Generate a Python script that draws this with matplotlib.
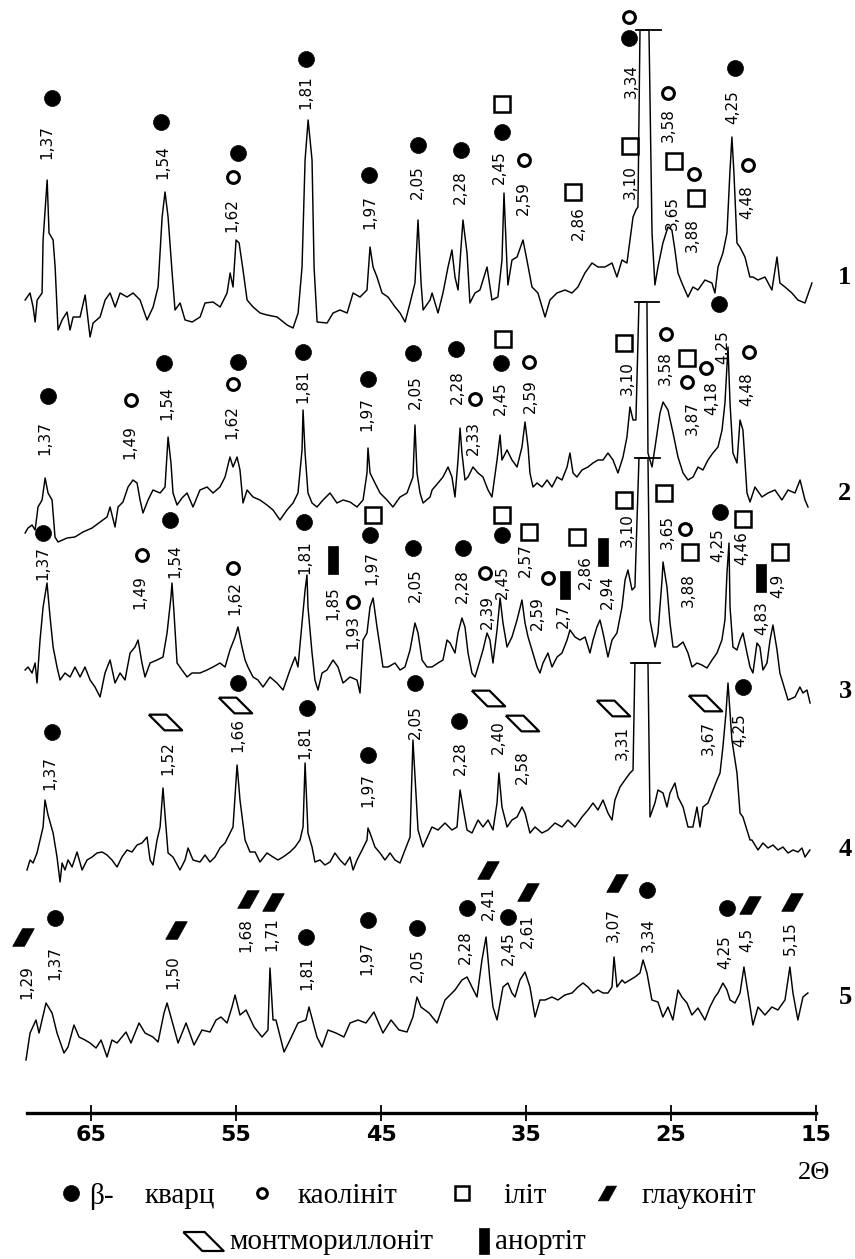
import numpy as np
import matplotlib.pyplot as plt

# ---- diffraction patterns: 2theta (deg) and intensity (arb. units) ----
T1_2THETA = [69.55, 69.21, 69.00, 68.86, 68.72, 68.38, 68.31, 68.03, 67.90, 67.62,
             67.48, 67.28, 67.00, 66.66, 66.45, 66.24, 65.76, 65.41, 65.07, 64.86,
             64.38, 64.03, 63.69, 63.34, 63.00, 62.52, 62.10, 61.62, 61.14, 60.72,
             60.38, 60.10, 59.90, 59.69, 59.41, 59.21, 58.86, 58.52, 58.03, 57.48,
             57.14, 56.59, 56.10, 55.62, 55.41, 55.21, 55.00, 54.79, 54.52, 54.24,
             53.83, 53.34, 52.86, 52.17, 51.48, 51.07, 50.72, 50.45, 50.24, 50.03,
             49.76, 49.62, 49.41, 48.72, 48.31, 47.83, 47.34, 46.93, 46.45, 45.97,
             45.76, 45.55, 45.28, 44.93, 44.52, 44.03, 43.69, 43.34, 43.00, 42.66,
             42.45, 42.24, 42.10, 41.62, 41.48, 41.07, 40.73, 40.38, 40.11, 39.90,
             39.69, 39.35, 39.07, 38.87, 38.52, 38.18, 37.69, 37.35, 36.94, 36.66,
             36.52, 36.31, 36.25, 35.97, 35.62, 35.21, 34.94, 34.59, 34.18, 33.69,
             33.35, 32.87, 32.31, 31.83, 31.42, 30.94, 30.45, 30.04, 29.56, 29.07,
             28.73, 28.38, 28.04, 27.83, 27.62, 27.42, 27.28, 27.14, 26.52, 26.31,
             26.11, 25.90, 25.56, 25.21, 24.94, 24.73, 24.52, 24.25, 23.83, 23.49,
             23.14, 22.66, 22.18, 21.97, 21.76, 21.42, 21.14, 20.94, 20.80, 20.66,
             20.45, 20.25, 19.90, 19.56, 19.35, 19.00, 18.52, 18.04, 17.69, 17.49,
             17.14, 16.66, 16.25, 15.76, 15.28]
T1_INT = [30, 37, 23, 8, 30, 37, 90, 150, 97, 90,
          63, 0, 10, 18, 0, 13, 13, 35, -7, 7,
          13, 30, 37, 23, 37, 33, 37, 30, 10, 23,
          43, 113, 138, 113, 57, 20, 27, 10, 8, 13,
          27, 28, 23, 37, 57, 43, 90, 87, 60, 30,
          23, 17, 15, 13, 5, 2, 17, 63, 170, 210,
          170, 63, 8, 7, 17, 20, 17, 37, 33, 40,
          83, 63, 53, 37, 33, 23, 17, 8, 27, 47,
          110, 47, 20, 30, 37, 17, 37, 63, 80, 53,
          40, 110, 77, 27, 37, 40, 63, 30, 33, 70,
          137, 63, 45, 70, 73, 90, 70, 43, 37, 13,
          30, 37, 40, 37, 43, 57, 67, 63, 63, 67,
          53, 70, 67, 90, 113, 120, 123, 300, 300, 97,
          45, 63, 87, 103, 100, 80, 57, 47, 33, 43,
          40, 50, 47, 37, 63, 77, 97, 157, 193, 157,
          87, 83, 73, 53, 53, 50, 53, 40, 73, 47,
          43, 37, 30, 27, 47]

T2_2THETA = [69.55, 69.35, 69.07, 68.86, 68.66, 68.38, 68.17, 67.97, 67.69, 67.49,
             67.28, 66.66, 66.11, 65.56, 64.93, 64.38, 63.90, 63.69, 63.35, 63.14,
             62.80, 62.45, 62.11, 61.83, 61.62, 61.42, 61.07, 60.73, 60.24, 59.90,
             59.69, 59.49, 59.35, 59.07, 58.73, 58.38, 57.97, 57.49, 57.00, 56.59,
             56.11, 55.76, 55.42, 55.21, 54.93, 54.73, 54.52, 54.24, 53.83, 53.35,
             52.87, 52.45, 51.97, 51.49, 51.07, 50.73, 50.45, 50.38, 50.24, 50.04,
             49.76, 49.42, 49.00, 48.52, 48.04, 47.62, 47.14, 46.66, 46.24, 45.97,
             45.90, 45.76, 45.42, 45.07, 44.59, 44.18, 43.69, 43.21, 42.80, 42.66,
             42.52, 42.31, 42.10, 41.62, 41.48, 41.07, 40.73, 40.38, 40.11, 39.90,
             39.69, 39.55, 39.42, 39.21, 39.00, 38.66, 38.31, 37.97, 37.62, 37.35,
             37.00, 36.79, 36.66, 36.31, 35.97, 35.62, 35.28, 35.07, 34.86, 34.73,
             34.52, 34.24, 33.90, 33.55, 33.21, 32.86, 32.52, 32.17, 31.97, 31.76,
             31.49, 31.14, 30.73, 30.38, 30.04, 29.69, 29.35, 29.00, 28.66, 28.31,
             28.04, 27.83, 27.62, 27.42, 27.21, 26.66, 26.59, 26.31, 26.10, 25.76,
             25.55, 25.21, 24.86, 24.52, 24.17, 23.83, 23.48, 23.14, 22.80, 22.45,
             22.11, 21.76, 21.48, 21.28, 21.07, 20.93, 20.73, 20.45, 20.24, 20.04,
             19.76, 19.55, 19.21, 18.73, 18.31, 17.83, 17.35, 16.93, 16.45, 16.10,
             15.76, 15.55]
T2_INT = [7, 12, 15, 10, 33, 40, 62, 47, 40, 3,
          -2, 2, 3, 8, 12, 18, 23, 33, 13, 33,
          38, 53, 60, 57, 40, 27, 40, 50, 47, 53,
          103, 77, 47, 35, 42, 47, 33, 50, 53, 47,
          53, 63, 83, 73, 83, 70, 37, 50, 43, 40,
          35, 30, 20, 30, 37, 47, 90, 130, 87, 47,
          37, 33, 40, 47, 37, 40, 38, 33, 40, 67,
          92, 67, 57, 47, 40, 33, 43, 47, 63, 115,
          67, 47, 37, 43, 50, 57, 63, 73, 63, 43,
          80, 112, 87, 60, 63, 73, 67, 63, 50, 43,
          80, 105, 80, 90, 80, 73, 93, 118, 93, 67,
          53, 57, 53, 60, 53, 63, 60, 73, 87, 67,
          63, 70, 73, 77, 80, 80, 87, 80, 67, 83,
          103, 133, 120, 120, 238, 238, 87, 73, 93, 127,
          138, 130, 107, 83, 67, 60, 63, 73, 70, 80,
          87, 93, 110, 137, 193, 137, 87, 77, 120, 110,
          47, 38, 53, 43, 47, 50, 40, 50, 47, 60,
          40, 33]

T3_2THETA = [69.55, 69.35, 69.07, 68.86, 68.73, 68.52, 68.31, 68.04, 67.83, 67.62,
             67.35, 67.14, 66.80, 66.45, 66.11, 65.76, 65.42, 65.07, 64.73, 64.38,
             64.04, 63.69, 63.35, 63.00, 62.66, 62.31, 61.97, 61.76, 61.49, 61.28,
             60.93, 60.45, 60.04, 59.76, 59.49, 59.42, 59.28, 59.07, 58.73, 58.38,
             58.04, 57.49, 57.00, 56.59, 56.11, 55.76, 55.42, 55.07, 54.87, 54.59,
             54.38, 54.18, 53.83, 53.49, 53.14, 52.66, 52.18, 51.76, 51.28, 50.93,
             50.73, 50.45, 50.24, 50.11, 50.04, 49.76, 49.56, 49.35, 49.07, 48.73,
             48.31, 47.97, 47.62, 47.14, 46.66, 46.45, 46.24, 45.97, 45.76, 45.55,
             45.28, 45.07, 44.87, 44.52, 44.04, 43.69, 43.35, 43.00, 42.66, 42.45,
             42.17, 41.83, 41.49, 41.07, 40.73, 40.45, 40.24, 39.90, 39.69, 39.42,
             39.21, 39.00, 38.73, 38.52, 38.31, 37.97, 37.69, 37.49, 37.28, 37.00,
             36.79, 36.59, 36.31, 35.97, 35.62, 35.28, 35.07, 34.86, 34.59, 34.24,
             34.04, 33.83, 33.49, 33.21, 32.86, 32.52, 32.17, 31.97, 31.62, 31.28,
             30.93, 30.59, 30.38, 30.11, 29.90, 29.69, 29.35, 29.07, 28.73, 28.38,
             28.17, 27.97, 27.69, 27.49, 27.21, 26.59, 26.45, 26.10, 25.90, 25.62,
             25.55, 25.28, 25.07, 24.86, 24.59, 24.17, 23.83, 23.55, 23.21, 22.87,
             22.52, 22.17, 21.83, 21.49, 21.28, 21.14, 21.00, 20.93, 20.73, 20.45,
             20.24, 20.04, 19.76, 19.55, 19.35, 19.07, 18.87, 18.66, 18.38, 18.17,
             17.97, 17.69, 17.49, 17.14, 16.93, 16.45, 16.11, 15.90, 15.62, 15.41]
T3_INT = [35, 38, 32, 42, 22, 65, 98, 122, 88, 58,
          38, 25, 32, 28, 38, 28, 38, 25, 18, 8,
          32, 45, 22, 32, 25, 52, 58, 65, 42, 28,
          42, 45, 48, 72, 108, 122, 92, 42, 35, 28,
          32, 32, 35, 38, 42, 38, 55, 68, 78, 58,
          45, 38, 28, 25, 18, 28, 22, 15, 35, 48,
          38, 82, 115, 130, 98, 52, 25, 15, 32, 35,
          45, 38, 22, 28, 25, 12, 65, 72, 98, 107,
          78, 58, 38, 38, 42, 35, 38, 55, 82, 72,
          45, 38, 38, 42, 45, 65, 62, 52, 72, 87,
          78, 52, 32, 28, 38, 55, 72, 65, 42, 75,
          107, 82, 58, 68, 85, 105, 82, 68, 55, 38,
          32, 42, 52, 38, 48, 52, 65, 75, 68, 65,
          68, 52, 65, 78, 85, 72, 48, 65, 72, 98,
          125, 135, 115, 118, 247, 247, 85, 58, 72, 125,
          143, 118, 82, 58, 58, 63, 52, 38, 42, 40,
          37, 45, 52, 65, 85, 132, 162, 98, 58, 55,
          65, 72, 52, 38, 32, 62, 58, 35, 42, 65,
          80, 55, 32, 15, 5, 8, 18, 12, 15, 2]

T4_2THETA = [69.42, 69.21, 69.00, 68.73, 68.52, 68.31, 68.18, 67.97, 67.62, 67.35,
             67.14, 67.00, 66.80, 66.59, 66.31, 65.97, 65.62, 65.28, 64.93, 64.59,
             64.24, 63.90, 63.56, 63.21, 62.87, 62.52, 62.18, 61.83, 61.49, 61.14,
             60.93, 60.73, 60.45, 60.24, 60.04, 59.90, 59.69, 59.35, 58.87, 58.52,
             58.31, 57.97, 57.49, 57.14, 56.80, 56.45, 56.11, 55.76, 55.42, 55.21,
             54.93, 54.73, 54.38, 54.04, 53.69, 53.35, 52.87, 52.45, 52.11, 51.76,
             51.28, 50.93, 50.59, 50.38, 50.24, 50.04, 49.76, 49.56, 49.21, 48.87,
             48.52, 48.18, 47.83, 47.49, 47.14, 46.93, 46.66, 46.31, 45.97, 45.90,
             45.76, 45.42, 45.07, 44.73, 44.38, 44.04, 43.69, 43.35, 43.00, 42.80,
             42.45, 42.11, 41.49, 41.07, 40.59, 40.11, 39.76, 39.55, 39.35, 39.07,
             38.73, 38.31, 37.97, 37.62, 37.28, 37.00, 36.87, 36.66, 36.31, 35.97,
             35.62, 35.28, 35.07, 34.73, 34.38, 33.90, 33.49, 33.00, 32.52, 32.11,
             31.62, 31.14, 30.73, 30.38, 30.04, 29.69, 29.35, 29.07, 28.87, 28.52,
             28.18, 27.83, 27.62, 27.49, 26.59, 26.45, 26.11, 25.90, 25.55, 25.28,
             25.07, 24.73, 24.52, 24.17, 23.83, 23.49, 23.21, 23.00, 22.80, 22.45,
             22.18, 21.83, 21.62, 21.42, 21.21, 21.07, 20.93, 20.80, 20.45, 20.24,
             20.04, 19.76, 19.55, 19.42, 19.00, 18.66, 18.31, 17.97, 17.62, 17.28,
             16.93, 16.59, 16.24, 15.97, 15.76, 15.42]
T4_INT = [0, 10, 7, 17, 30, 43, 70, 55, 37, 13,
          -12, 7, 0, 10, 3, 18, 0, 10, 13, 17,
          18, 15, 10, 3, 13, 20, 18, 25, 27, 33,
          10, 5, 30, 43, 82, 55, 17, 13, 0, 10,
          22, 10, 8, 15, 8, 13, 22, 27, 37, 43,
          105, 70, 30, 18, 18, 8, 17, 13, 10, 13,
          18, 23, 30, 43, 107, 37, 23, 8, 10, 5,
          8, 17, 10, 5, 13, 0, 10, 20, 30, 42,
          37, 23, 17, 10, 17, 10, 7, 20, 33, 130,
          40, 23, 43, 40, 47, 40, 43, 80, 63, 40,
          37, 50, 43, 50, 40, 67, 97, 63, 43, 50,
          53, 63, 57, 37, 43, 37, 40, 47, 43, 50,
          43, 53, 60, 67, 60, 70, 57, 50, 70, 83,
          90, 97, 100, 207, 207, 53, 67, 80, 77, 63,
          77, 87, 73, 63, 43, 43, 63, 43, 63, 67,
          77, 90, 97, 123, 157, 187, 157, 130, 97, 57,
          53, 40, 30, 30, 20, 27, 22, 25, 20, 23,
          17, 20, 18, 22, 13, 20]

T5_2THETA = [69.49, 69.21, 68.80, 68.59, 68.11, 67.69, 67.35, 66.87, 66.59, 66.18,
             65.83, 65.42, 65.07, 64.66, 64.31, 63.90, 63.56, 63.21, 62.59, 62.25,
             61.69, 61.28, 60.73, 60.38, 59.97, 59.76, 59.00, 58.45, 57.90, 57.35,
             56.80, 56.38, 56.04, 55.62, 55.28, 55.07, 54.73, 54.31, 53.76, 53.21,
             52.80, 52.66, 52.45, 52.25, 51.69, 51.28, 50.73, 50.18, 49.97, 49.42,
             49.07, 48.66, 48.11, 47.56, 47.14, 46.59, 46.04, 45.49, 44.87, 44.31,
             43.76, 43.21, 42.80, 42.52, 42.25, 41.69, 41.14, 40.59, 39.90, 39.42,
             39.07, 38.73, 38.38, 38.04, 37.76, 37.49, 37.28, 37.00, 36.59, 36.25,
             35.97, 35.76, 35.42, 35.07, 34.73, 34.38, 34.04, 33.69, 33.21, 32.80,
             32.32, 31.83, 31.42, 31.07, 30.73, 30.38, 30.04, 29.69, 29.35, 29.07,
             28.93, 28.73, 28.38, 28.18, 27.83, 27.49, 27.14, 26.93, 26.66, 26.32,
             25.90, 25.56, 25.21, 24.87, 24.52, 24.25, 23.90, 23.56, 23.14, 22.66,
             22.32, 21.97, 21.76, 21.42, 21.14, 20.93, 20.59, 20.24, 19.97, 19.69,
             19.35, 19.00, 18.52, 18.04, 17.63, 17.14, 16.80, 16.59, 16.25, 15.90,
             15.56]
T5_INT = [0, 27, 40, 27, 57, 47, 27, 7, 13, 35,
          23, 20, 17, 12, 20, 3, 20, 17, 28, 17,
          37, 27, 23, 18, 47, 57, 17, 37, 15, 30,
          28, 40, 43, 37, 53, 65, 45, 50, 33, 23,
          30, 92, 40, 40, 8, 20, 37, 40, 53, 23,
          13, 30, 27, 23, 37, 40, 37, 48, 27, 40,
          30, 28, 43, 63, 53, 47, 37, 60, 70, 80,
          83, 73, 63, 100, 123, 80, 53, 40, 73, 77,
          67, 63, 80, 88, 73, 43, 60, 60, 63, 60,
          65, 67, 73, 77, 73, 67, 70, 67, 67, 73,
          103, 73, 80, 77, 80, 83, 87, 100, 87, 60,
          58, 43, 53, 40, 70, 63, 57, 45, 52, 40,
          53, 63, 67, 77, 70, 60, 57, 67, 93, 67,
          35, 53, 45, 53, 50, 60, 93, 67, 40, 63,
          67]

PATTERNS = [(T1_2THETA, T1_INT), (T2_2THETA, T2_INT), (T3_2THETA, T3_INT),
            (T4_2THETA, T4_INT), (T5_2THETA, T5_INT)]
SAMPLE_NAMES = ["1", "2", "3", "4", "5"]
OFFSETS = [783, 573, 408, 243, 53]
NAME_Y = [835, 620, 421, 263, 116]
BROKEN = [True, True, True, True, False]   # main quartz peak cut off

# d-spacings (A) written over the peaks: (text, 2theta, height)
D1 = [("1,37", 68.04, 971), ("1,54", 60.04, 951), ("1,62", 55.28, 898), ("1,81", 50.18, 1021),
      ("1,97", 45.76, 901), ("2,05", 42.52, 931), ("2,28", 39.55, 926), ("2,45", 36.86, 946),
      ("2,59", 35.21, 915), ("2,86", 31.42, 890), ("3,10", 27.83, 931), ("3,34", 27.76, 1032),
      ("3,58", 25.21, 988), ("3,65", 24.93, 900), ("3,88", 23.55, 878), ("4,25", 20.73, 1006),
      ("4,48", 19.76, 911)]
D2 = [("1,37", 68.18, 675), ("1,49", 62.31, 671), ("1,54", 59.76, 710), ("1,62", 55.28, 691),
      ("1,81", 50.38, 727), ("1,97", 45.97, 699), ("2,05", 42.66, 721), ("2,28", 39.76, 726),
      ("2,33", 38.66, 675), ("2,45", 36.79, 715), ("2,59", 34.73, 717), ("3,10", 28.04, 735),
      ("3,58", 25.42, 745), ("3,87", 23.55, 695), ("4,18", 22.17, 715), ("4,25", 21.42, 766),
      ("4,48", 19.76, 724)]
D3 = [("1,37", 68.31, 550), ("1,49", 61.62, 521), ("1,54", 59.21, 552), ("1,62", 55.07, 515),
      ("1,81", 50.24, 556), ("1,85", 48.31, 510), ("1,93", 46.93, 481), ("1,97", 45.62, 545),
      ("2,05", 42.66, 528), ("2,28", 39.42, 527), ("2,39", 37.69, 501), ("2,45", 36.66, 531),
      ("2,57", 35.07, 553), ("2,59", 34.24, 500), ("2,7", 32.45, 497), ("2,86", 30.93, 541),
      ("2,94", 29.42, 521), ("3,10", 28.04, 583), ("3,65", 25.28, 581), ("3,88", 23.83, 523),
      ("4,25", 21.76, 568), ("4,46", 20.10, 565), ("4,83", 18.73, 495), ("4,9", 17.62, 527)]
D4 = [("1,37", 67.83, 340), ("1,52", 59.69, 355), ("1,66", 54.87, 378), ("1,81", 50.24, 371),
      ("1,97", 45.90, 323), ("2,05", 42.66, 391), ("2,28", 39.55, 355), ("2,40", 36.93, 376),
      ("2,58", 35.28, 346), ("3,31", 28.38, 370), ("3,67", 22.45, 375), ("4,25", 20.24, 383)]
D5 = [("1,29", 69.42, 131), ("1,37", 67.49, 150), ("1,50", 59.35, 141), ("1,68", 54.31, 178),
      ("1,71", 52.52, 179), ("1,81", 50.11, 140), ("1,97", 45.97, 155), ("2,05", 42.52, 148),
      ("2,28", 39.21, 166), ("2,41", 37.62, 210), ("2,45", 36.25, 165), ("2,61", 34.93, 182),
      ("3,07", 29.00, 188), ("3,34", 26.59, 178), ("4,25", 21.28, 161), ("4,5", 19.76, 173),
      ("5,15", 16.80, 175)]

# mineral marks: q quartz, k kaolinite, i illite, g glauconite, m montmorillonite, a anorthite
M1 = [("q", 67.69, 1015), ("q", 60.18, 991), ("k", 55.21, 936), ("q", 54.87, 960), ("q", 50.18, 1054),
      ("q", 45.83, 938), ("q", 42.45, 968), ("q", 39.49, 963), ("q", 36.66, 981), ("i", 36.66, 1009),
      ("k", 35.14, 953), ("i", 31.76, 921), ("i", 27.83, 967), ("q", 27.90, 1075), ("k", 27.90, 1096),
      ("k", 25.21, 1020), ("i", 24.80, 952), ("k", 23.42, 939), ("i", 23.28, 915), ("q", 20.59, 1045),
      ("k", 19.69, 948)]
M2 = [("q", 67.97, 717), ("k", 62.25, 713), ("q", 59.97, 750), ("k", 55.21, 729), ("q", 54.87, 751),
      ("q", 50.38, 761), ("q", 45.90, 734), ("q", 42.80, 760), ("q", 39.83, 764), ("k", 38.52, 714),
      ("q", 36.73, 750), ("i", 36.59, 774), ("k", 34.80, 751), ("i", 28.24, 770), ("k", 25.35, 779),
      ("i", 23.90, 755), ("k", 23.90, 731), ("k", 22.59, 745), ("q", 21.69, 809), ("k", 19.62, 761)]
M3 = [("q", 68.31, 580), ("k", 61.49, 558), ("q", 59.56, 593), ("k", 55.21, 545), ("q", 50.31, 591),
      ("a", 48.31, 553), ("k", 46.93, 511), ("q", 45.76, 578), ("i", 45.55, 598), ("q", 42.80, 565),
      ("q", 39.35, 565), ("k", 37.83, 540), ("q", 36.66, 578), ("i", 36.66, 598), ("i", 34.80, 581),
      ("k", 33.48, 535), ("a", 32.31, 528), ("i", 31.49, 576), ("a", 29.69, 561), ("i", 28.24, 613),
      ("i", 25.49, 620), ("k", 24.04, 584), ("i", 23.69, 561), ("q", 21.62, 601), ("i", 20.04, 594),
      ("a", 18.79, 535), ("i", 17.48, 561)]
M4 = [("q", 67.69, 381), ("m", 59.90, 391), ("m", 55.07, 408), ("q", 54.87, 430), ("q", 50.11, 405),
      ("q", 45.90, 358), ("q", 42.66, 430), ("q", 39.62, 392), ("m", 37.62, 415), ("m", 35.28, 390),
      ("m", 29.00, 405), ("m", 22.66, 410), ("q", 20.04, 426)]
M5 = [("g", 69.69, 176), ("q", 67.49, 195), ("g", 59.14, 183), ("g", 54.18, 214), ("g", 52.45, 211),
      ("q", 50.18, 176), ("q", 45.90, 193), ("q", 42.52, 185), ("q", 39.07, 205), ("g", 37.62, 243),
      ("q", 36.25, 196), ("g", 34.86, 221), ("g", 28.73, 230), ("q", 26.66, 223), ("q", 21.14, 205),
      ("g", 19.55, 208), ("g", 16.66, 211)]

D_LABELS = [D1, D2, D3, D4, D5]
MARKS = [M1, M2, M3, M4, M5]

LEGEND_ROW1 = [("q", "кварц"), ("k", "каолініт"), ("i", "іліт"), ("g", "глауконіт")]
LEGEND_ROW2 = [("m", "монтмориллоніт"), ("a", "анортіт")]
XTICKS = [65, 55, 45, 35, 25, 15]

# marker shapes
GLAUC = [(-11, -9), (1, -9), (11, 9), (-1, 9), (-11, -9)]
MONT = [(-17, 8), (1, 8), (17, -8), (-1, -8), (-17, 8)]
ANORT = [(-5, -14), (5, -14), (5, 14), (-5, 14), (-5, -14)]
STYLE = {
    "q": dict(marker="o", ms=11.5, mfc="k", mec="k", mew=0.5),
    "k": dict(marker="o", ms=8.5, mfc="white", mec="k", mew=2.2),
    "i": dict(marker="s", ms=11.5, mfc="white", mec="k", mew=1.8),
    "g": dict(marker=GLAUC, ms=15.5, mfc="k", mec="k", mew=0.5),
    "m": dict(marker=MONT, ms=24, mfc="white", mec="k", mew=1.6),
    "a": dict(marker=ANORT, ms=20, mfc="k", mec="k", mew=0.5),
}
LEGEND_SIZE = {"q": 11.5, "k": 7, "i": 10, "g": 13, "m": 29, "a": 19}

fig = plt.figure(figsize=(8.55, 12.59), dpi=100)
ax = fig.add_axes([27 / 855, 146 / 1259, 789 / 855, 1113 / 1259])
ax.set_xlim(69.42, 15)
ax.set_ylim(0, 1113)

for k, (tt, ii) in enumerate(PATTERNS):
    tt = np.array(tt)
    ii = np.array(ii) + OFFSETS[k]
    ax.plot(tt, ii, color="k", lw=1.05, clip_on=False)
    if BROKEN[k]:
        top = ii.max()
        xs = tt[ii == top]
        ax.plot([xs.max() + 0.3, xs.min() - 0.8], [top, top], color="k", lw=1.3, clip_on=False)
    ax.text(13.0, NAME_Y[k], SAMPLE_NAMES[k], fontsize=19, fontweight="bold",
            family="Liberation Serif", ha="center", va="center")

    for txt, x, y in D_LABELS[k]:
        ax.text(x, y, txt, rotation=90, ha="center", va="center", fontsize=11,
                family="DejaVu Sans", clip_on=False)
    for kind in STYLE:
        pts = [(x, y) for m, x, y in MARKS[k] if m == kind]
        if pts:
            xs, ys = zip(*pts)
            ax.plot(xs, ys, linestyle="none", clip_on=False, **STYLE[kind])

for side in ["top", "left", "right"]:
    ax.spines[side].set_visible(False)
ax.spines["bottom"].set_linewidth(2.4)
ax.set_yticks([])
ax.set_xticks(XTICKS)
ax.set_xticklabels([str(v) for v in XTICKS], fontsize=16, fontweight="bold", family="DejaVu Sans")
ax.tick_params(axis="x", direction="inout", length=11, width=1.3, pad=3)
ax.patch.set_visible(False)

# legend and axis title, placed in figure pixels
ov = fig.add_axes([0, 0, 1, 1])
ov.set_xlim(0, 855)
ov.set_ylim(1259, 0)
ov.axis("off")
ov.patch.set_visible(False)

ov.text(814, 1173, "2Θ", fontsize=19, family="Liberation Serif", ha="center", va="center")

row1_mark_x = [71, 262, 462, 607]
row1_text_x = [145, 298, 503, 642]
for (kind, label), mx, tx in zip(LEGEND_ROW1, row1_mark_x, row1_text_x):
    st = dict(STYLE[kind])
    st["ms"] = LEGEND_SIZE[kind]
    ov.plot([mx], [1193], linestyle="none", **st)
    ov.text(tx, 1196, label, fontsize=21, family="Liberation Serif", ha="left", va="center")
ov.text(89, 1196, "β-", fontsize=21, family="Liberation Serif", ha="left", va="center")

row2_mark_x = [203, 484]
row2_text_x = [229, 495]
for (kind, label), mx, tx in zip(LEGEND_ROW2, row2_mark_x, row2_text_x):
    st = dict(STYLE[kind])
    st["ms"] = LEGEND_SIZE[kind]
    ov.plot([mx], [1241], linestyle="none", **st)
    ov.text(tx, 1242, label, fontsize=21, family="Liberation Serif", ha="left", va="center")

fig.savefig("out.png", dpi=100)
